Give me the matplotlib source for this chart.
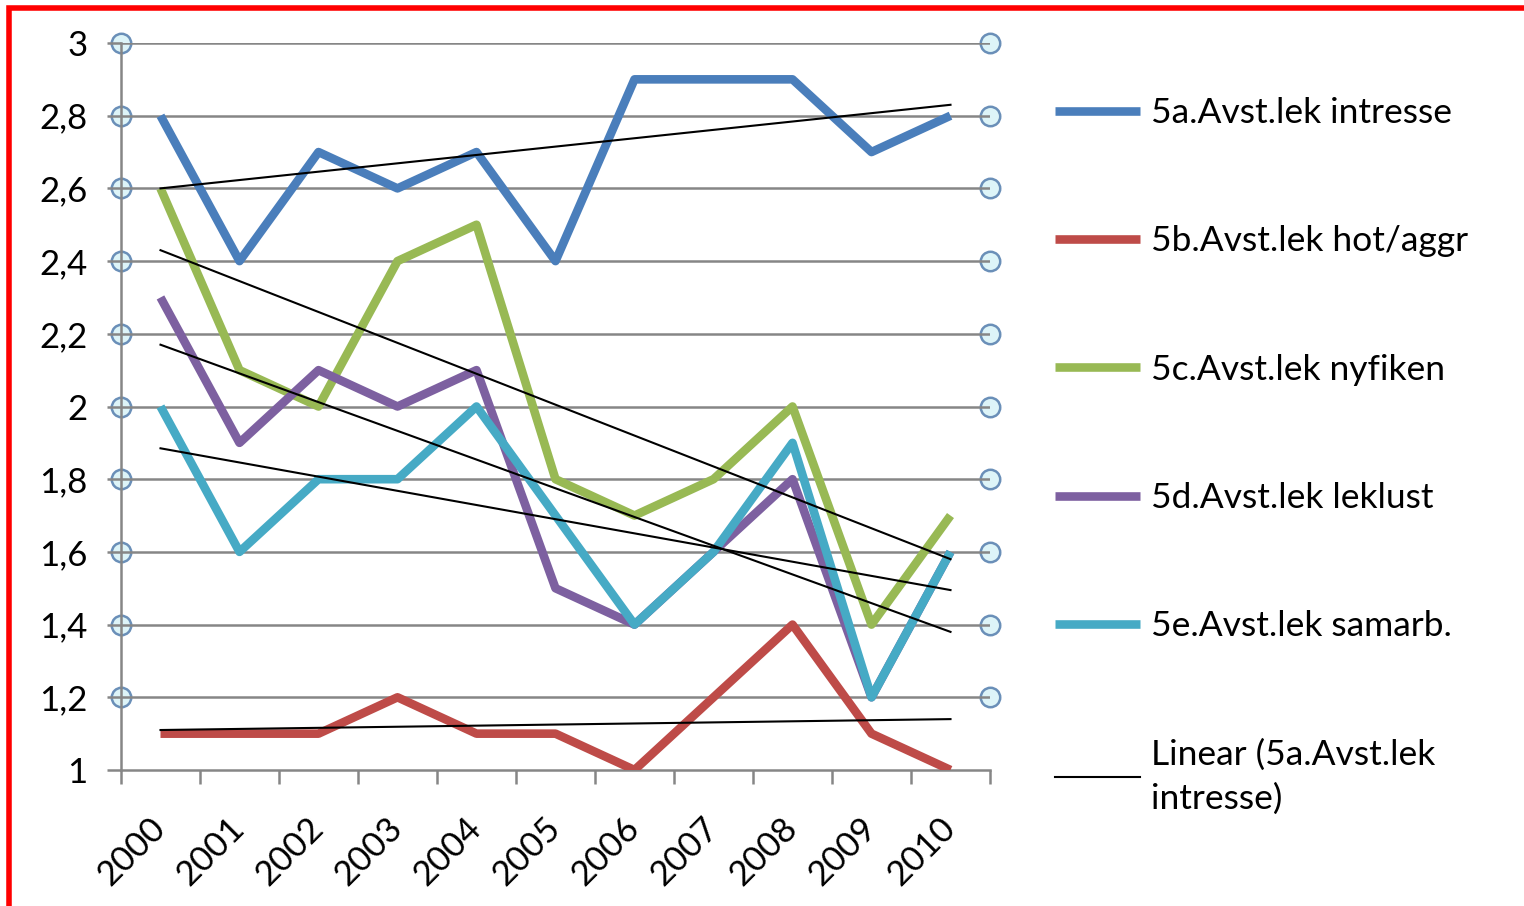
import matplotlib.pyplot as plt
import matplotlib.patches as patches
import numpy as np

plt.rcParams['font.family'] = ['Lato', 'DejaVu Sans']

# data
years = ["2000", "2001", "2002", "2003", "2004", "2005", "2006", "2007", "2008", "2009", "2010"]
intresse = [2.8, 2.4, 2.7, 2.6, 2.7, 2.4, 2.9, 2.9, 2.9, 2.7, 2.8]
hot_aggr = [1.1, 1.1, 1.1, 1.2, 1.1, 1.1, 1.0, 1.2, 1.4, 1.1, 1.0]
nyfiken = [2.6, 2.1, 2.0, 2.4, 2.5, 1.8, 1.7, 1.8, 2.0, 1.4, 1.7]
leklust = [2.3, 1.9, 2.1, 2.0, 2.1, 1.5, 1.4, 1.6, 1.8, 1.2, 1.6]
samarb = [2.0, 1.6, 1.8, 1.8, 2.0, 1.7, 1.4, 1.6, 1.9, 1.2, 1.6]

labels = ["5a.Avst.lek intresse", "5b.Avst.lek hot/aggr", "5c.Avst.lek nyfiken",
          "5d.Avst.lek leklust", "5e.Avst.lek samarb."]
colors = ["#4A7EBB", "#BE4B48", "#98B954", "#7D60A0", "#46AAC5"]

# linear trend lines as drawn (value at 2000, value at 2010)
trend_start = [2.60, 1.11, 2.43, 2.17, 1.885]
trend_end = [2.83, 1.14, 1.58, 1.38, 1.495]

yticks = [1, 1.2, 1.4, 1.6, 1.8, 2, 2.2, 2.4, 2.6, 2.8, 3]

fig = plt.figure(figsize=(15.24, 9.06), dpi=100)
ax = fig.add_axes([121/1524, 1-770/906, (990-121)/1524, (770-43)/906])

x = np.arange(len(years))
series = [intresse, hot_aggr, nyfiken, leklust, samarb]
handles = []
for vals, lab, col in zip(series, labels, colors):
    h, = ax.plot(x, vals, color=col, lw=6.2, label=lab, solid_capstyle='butt', zorder=3)
    handles.append(h)

for i, (s, e) in enumerate(zip(trend_start, trend_end)):
    h, = ax.plot([x[0], x[-1]], [s, e], color='black', lw=1.5, zorder=4,
                 label="Linear (5a.Avst.lek\nintresse)")
    if i == 0:
        handles.append(h)

ax.set_xlim(-0.5, len(years) - 0.5)
ax.set_ylim(1, 3)

# gridlines
for yv in yticks[1:]:
    ax.axhline(yv, color='#868686', lw=1.8, zorder=1)

# odd handle markers at gridline ends
mk = yticks[1:]
for xe in [-0.5, len(years) - 0.5]:
    ax.plot([xe]*len(mk), mk, 'o', ms=14, mfc='#DDF4F8', mec='#6A8FB8', mew=1.8,
            clip_on=False, zorder=0.8)

ax.set_yticks(yticks)
ax.set_yticklabels([f"{v:g}".replace('.', ',') for v in yticks])
ax.set_xticks(np.arange(-0.5, len(years)), minor=False)
ax.set_xticklabels([])
ax.set_xticks(x, minor=True)
ax.set_xticklabels(years, minor=True, rotation=45, ha='right', va='center',
                   rotation_mode='anchor')

ax.tick_params(axis='y', length=10, width=1.8, color='#868686', pad=14, labelsize=25)
ax.tick_params(axis='x', which='major', length=10, width=1.8, color='#868686')
ax.tick_params(axis='x', which='minor', length=0, pad=38, labelsize=25)

for side in ['top', 'right']:
    ax.spines[side].set_visible(False)
for side in ['left', 'bottom']:
    ax.spines[side].set_color('#868686')
    ax.spines[side].set_linewidth(1.8)
    ax.spines[side].set_zorder(2)

leg = fig.legend(handles=handles, loc='upper left', bbox_to_anchor=(1055/1524, 1-97/906),
                 frameon=False, fontsize=25.5, handlelength=2.4, handletextpad=0.3,
                 labelspacing=2.72, borderpad=0, borderaxespad=0)
for t in leg.get_texts():
    t.set_linespacing(1.45)

# red frame round the picture
fig.add_artist(patches.Rectangle((9/1524, -0.1), 1.2, 1.1 - 8/906,
                                 transform=fig.transFigure, fill=False,
                                 edgecolor='#FF0000', lw=4))

fig.savefig("out.png", dpi=100)
